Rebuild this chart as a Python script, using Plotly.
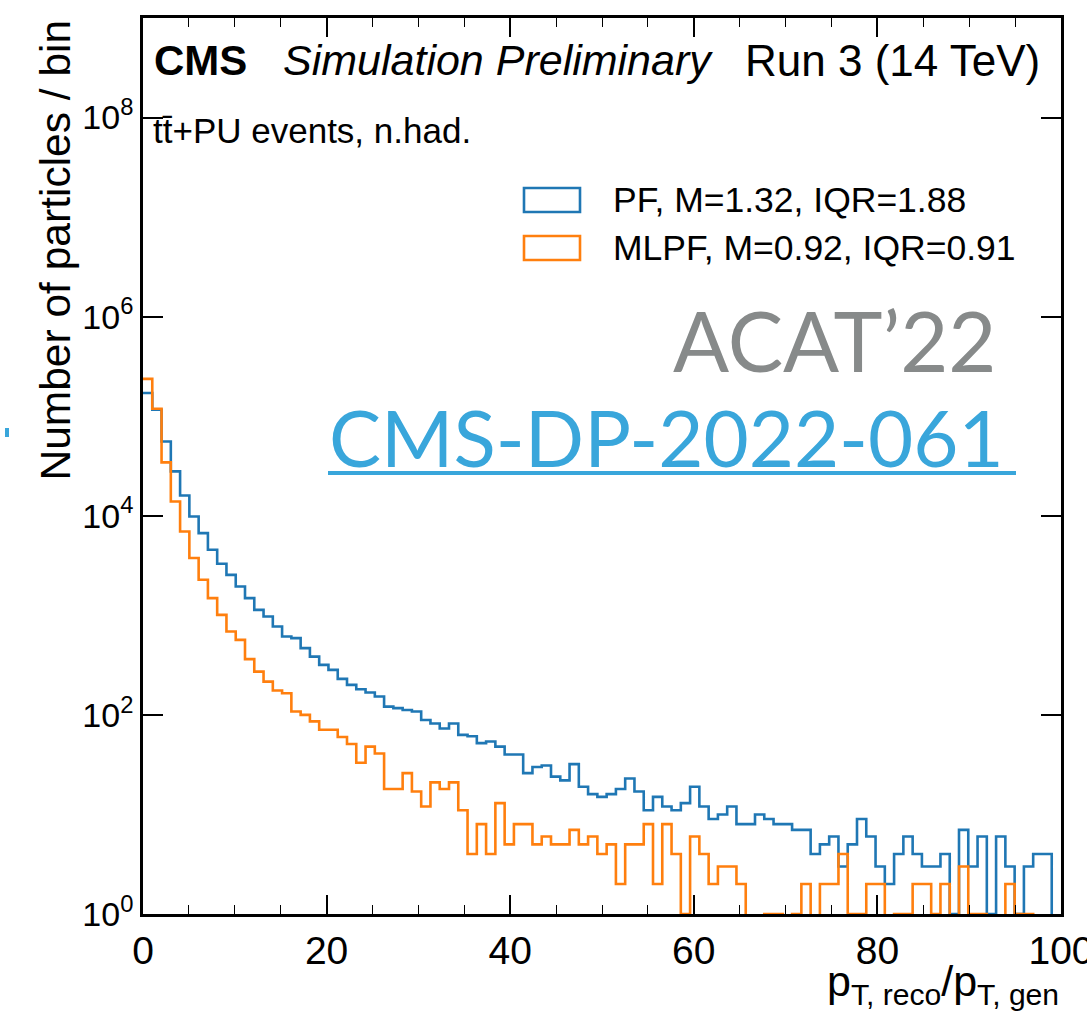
import numpy as np
import plotly.graph_objects as go

# ---------------- data ----------------
bin_edges = np.linspace(0, 100, 100)  # 99 bins between 0 and 100

pf_counts = [
    171000, 116000, 55800, 27900, 16000, 9840, 6700, 4550, 3300, 2550,
    1950, 1490, 1135, 973, 773, 613, 590, 468, 385, 318,
    283, 230, 200, 181, 168, 153, 121, 117, 112, 108,
    89, 82, 73, 82, 63, 61, 52, 54, 48, 40,
    40, 26, 30, 31, 24, 22, 32, 19, 16, 15,
    16, 18, 23, 17, 11, 15, 12, 11, 13, 19,
    12, 9, 10, 12, 8, 8, 10, 9, 8, 8,
    7, 7, 4, 5, 6, 3, 5, 9, 6, 3,
    2, 4, 6, 4, 3, 3, 4, 1, 7, 3,
    6, 1, 6, 3, 1, 3, 4, 4, 0,
]

mlpf_counts = [
    237000, 119000, 34400, 13900, 6950, 3760, 2280, 1490, 1010, 687,
    567, 363, 272, 216, 176, 165, 108, 100, 86, 71,
    71, 60, 51, 33, 48, 41, 18, 18, 26, 17,
    12, 21, 18, 21, 11, 4, 8, 4, 13, 5,
    8, 8, 5, 6, 5, 5, 7, 5, 6, 4,
    5, 2, 5, 5, 8, 2, 8, 4, 1, 6,
    4, 2, 3, 3, 2, 0, 0, 1, 1, 0,
    1, 2, 0, 2, 2, 4, 1, 1, 2, 2,
    0, 1, 1, 2, 2, 1, 2, 0, 3, 1,
    1, 0, 0, 2, 1, 1, 0, 0, 0,
]

series_names = ["PF, M=1.32, IQR=1.88", "MLPF, M=0.92, IQR=0.91"]
series_colors = ["#1f77b4", "#ff7f0e"]

x_tick_vals = [0, 20, 40, 60, 80, 100]
y_tick_vals = [1, 1e2, 1e4, 1e6, 1e8]
y_tick_text = ["10<sup>0</sup>", "10<sup>2</sup>", "10<sup>4</sup>",
               "10<sup>6</sup>", "10<sup>8</sup>"]

# ---------------- geometry helpers ----------------
W, H = 1087, 1013
L, R, T, B = 143, 1061, 18, 914   # plot area in pixels


def px(xp):
    return (xp - L) / (R - L)


def py(yp):
    return (B - yp) / (B - T)


FLOOR = 1e-3  # empty bins drop below the visible axis range


def step_xy(edges, counts):
    c = np.asarray(counts, dtype=float)
    c = np.where(c > 0, c, FLOOR)
    xs = np.asarray(edges, dtype=float)
    ys = np.concatenate([c, [FLOOR]])
    return xs, ys


fig = go.Figure()
for counts, name, color in zip([pf_counts, mlpf_counts], series_names, series_colors):
    xs, ys = step_xy(bin_edges, counts)
    fig.add_trace(go.Scatter(
        x=xs, y=ys, mode="lines", name=name,
        line=dict(color=color, width=2.6, shape="hv"),
        showlegend=False, hoverinfo="skip",
    ))

FONT = "Liberation Sans, Arial, Helvetica, sans-serif"

fig.update_layout(
    width=W, height=H,
    margin=dict(l=L, r=W - R, t=T, b=H - B, pad=0),
    paper_bgcolor="white", plot_bgcolor="white",
    font=dict(family=FONT, color="black"),
    showlegend=False,
)

fig.update_xaxes(
    range=[0, 100], tickvals=x_tick_vals, ticktext=[str(v) for v in x_tick_vals],
    ticks="inside", ticklen=19, tickwidth=1.6, tickcolor="black",
    minor=dict(dtick=5, ticks="inside", ticklen=9, tickwidth=1.4, tickcolor="black"),
    showline=True, linewidth=2.6, linecolor="black", mirror="ticks",
    showgrid=False, zeroline=False, automargin=False, layer="above traces",
    ticklabeloverflow="allow",
    tickfont=dict(size=39, family=FONT, color="black"),
)
fig.update_yaxes(
    type="log", range=[0, 9], tickvals=y_tick_vals, ticktext=y_tick_text,
    ticks="inside", ticklen=20, tickwidth=1.6, tickcolor="black",
    showline=True, linewidth=2.6, linecolor="black", mirror="ticks",
    showgrid=False, zeroline=False, automargin=False, layer="above traces",
    ticklabeloverflow="allow",
    tickfont=dict(size=34, family=FONT, color="black"),
)

ann = []
# CMS label line
ann.append(dict(text="<b>CMS</b>", x=px(152), y=py(60),
                xref="paper", yref="paper", xanchor="left", yanchor="middle",
                showarrow=False, font=dict(size=42, family=FONT)))
ann.append(dict(text="<i>Simulation Preliminary</i>", x=px(281), y=py(60),
                xref="paper", yref="paper", xanchor="left", yanchor="middle",
                showarrow=False, font=dict(size=43, family=FONT)))
ann.append(dict(text="Run 3 (14 TeV)", x=px(1042), y=py(60),
                xref="paper", yref="paper", xanchor="right", yanchor="middle",
                showarrow=False, font=dict(size=44, family=FONT)))
ann.append(dict(text="tt\u0304+PU events, n.had.", x=px(151), y=py(130),
                xref="paper", yref="paper", xanchor="left", yanchor="middle",
                showarrow=False, font=dict(size=35, family=FONT)))
# legend texts
for i, (name, ypix) in enumerate(zip(series_names, [200, 248])):
    ann.append(dict(text=name, x=px(611), y=py(ypix),
                    xref="paper", yref="paper", xanchor="left", yanchor="middle",
                    showarrow=False, font=dict(size=35.5, family=FONT)))
# axis titles
ann.append(dict(text="Number of particles / bin", x=px(55), y=py(18),
                xref="paper", yref="paper", xanchor="center", yanchor="top",
                textangle=-90, showarrow=False, font=dict(size=42.5, family=FONT)))
ann.append(dict(text="p<sub>T, reco</sub>/p<sub>T, gen</sub>", x=px(1061), y=py(984),
                xref="paper", yref="paper", xanchor="right", yanchor="middle",
                showarrow=False, font=dict(size=43, family=FONT)))
# overlay texts
ann.append(dict(text="ACAT\u201922", x=px(998), y=py(340),
                xref="paper", yref="paper", xanchor="right", yanchor="middle",
                showarrow=False, font=dict(size=83, family="Lato, sans-serif", color="#878a8a")))
ann.append(dict(text="CMS-DP-2022-061", x=px(1006), y=py(437),
                xref="paper", yref="paper", xanchor="right", yanchor="middle",
                showarrow=False, font=dict(size=78, family="Lato, sans-serif", color="#39a6db")))
fig.update_layout(annotations=ann)

shapes = []
# legend patches
for color, (y0, y1) in zip(series_colors, [(188, 212), (236, 260)]):
    shapes.append(dict(type="rect", xref="paper", yref="paper",
                       x0=px(524), x1=px(580), y0=py(y1), y1=py(y0),
                       line=dict(color=color, width=2.6), fillcolor="rgba(0,0,0,0)"))
# underline of the link text
shapes.append(dict(type="line", xref="paper", yref="paper",
                   x0=px(328), x1=px(1016), y0=py(473), y1=py(473),
                   line=dict(color="#39a6db", width=4)))
# small stray blue mark on the left
shapes.append(dict(type="rect", xref="paper", yref="paper",
                   x0=px(5), x1=px(9), y0=py(437), y1=py(428),
                   line=dict(width=0), fillcolor="#39a6db"))
fig.update_layout(shapes=shapes)

fig.write_html("out.html")
